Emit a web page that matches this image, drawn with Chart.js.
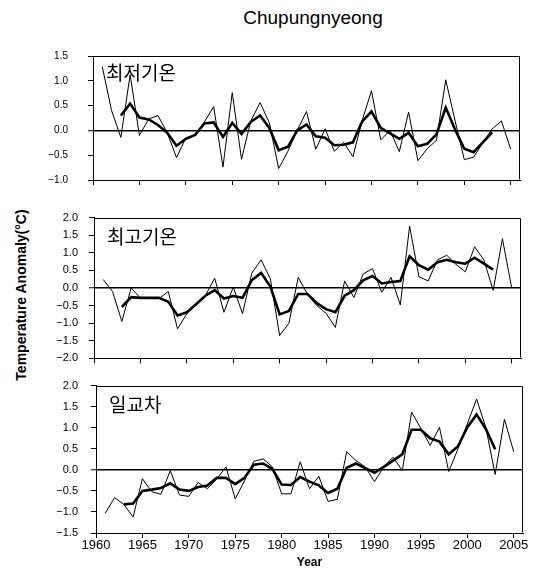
<!DOCTYPE html>
<html>
<head>
<meta charset="utf-8">
<script src="https://cdn.jsdelivr.net/npm/chart.js@4.4.0/dist/chart.umd.min.js"></script>
<style>
  body { margin: 0; background: #fff; }
  #page { position: relative; width: 539px; height: 571px; overflow: hidden; font-family: 'Liberation Sans', Arial, sans-serif; }
  canvas { position: absolute; left: 0; }
  #title { position: absolute; left: 163px; width: 300px; top: 8px; line-height: 19px; font-size: 19px; text-align: center; color: #000; }
  #ylab { position: absolute; left: -129px; width: 300px; top: 287px; line-height: 16px; font-size: 14px; font-weight: bold; text-align: center; transform: rotate(-90deg); color: #000; }
</style>
</head>
<body>
<div id="page">
  <div id="title">Chupungnyeong</div>
  <div id="ylab">Temperature Anomaly(°C)</div>
  <canvas id="c1" width="539" height="176" style="top:30px"></canvas>
  <canvas id="c2" width="539" height="176" style="top:200px"></canvas>
  <canvas id="c3" width="539" height="205" style="top:366px"></canvas>
</div>
<script>
const FONT = "'Liberation Sans', Arial, sans-serif";

// years of annual values, and the years covered by the smoothed curve
const years = [1961,1962,1963,1964,1965,1966,1967,1968,1969,1970,
  1971,1972,1973,1974,1975,1976,1977,1978,1979,1980,
  1981,1982,1983,1984,1985,1986,1987,1988,1989,1990,
  1991,1992,1993,1994,1995,1996,1997,1998,1999,2000,
  2001,2002,2003,2004,2005];
const smoothYears = years.slice(2, 43); // 1963 - 2003
const xTickYears = [1960,1965,1970,1975,1980,1985,1990,1995,2000,2005];

// 최저기온 (minimum temperature)
const tminAnnual = [1.28,0.40,-0.14,1.12,-0.10,0.23,0.30,-0.05,-0.55,-0.15,
  -0.10,0.17,0.48,-0.74,0.76,-0.58,0.19,0.56,0.15,-0.77,
  -0.42,0.00,0.38,-0.38,0.03,-0.42,-0.24,-0.53,0.20,0.80,
  -0.19,0.00,-0.43,0.37,-0.61,-0.37,-0.20,1.02,0.20,-0.59,
  -0.54,-0.25,0.03,0.19,-0.38];
const tminSmooth = [0.30,0.54,0.26,0.22,0.11,-0.05,-0.31,-0.17,-0.09,0.14,
  0.16,-0.13,0.15,-0.07,0.17,0.30,0.05,-0.40,-0.33,0.00,
  0.12,-0.12,-0.15,-0.30,-0.29,-0.24,0.18,0.38,0.05,-0.06,
  -0.17,-0.05,-0.32,-0.27,-0.08,0.46,0.02,-0.37,-0.44,-0.24,
  -0.04];
const tminTicks = [-1.0,-0.5,0.0,0.5,1.0,1.5];

// 최고기온 (maximum temperature)
const tmaxAnnual = [0.24,-0.10,-0.95,0.00,-0.28,-0.30,-0.30,-0.10,-1.16,-0.73,
  -0.47,-0.22,0.28,-0.69,0.03,-0.73,0.42,0.80,0.26,-1.35,
  -1.00,0.30,-0.18,-0.50,-0.72,-1.12,0.20,-0.27,0.40,0.55,
  -0.12,0.30,-0.48,1.76,0.32,0.20,0.80,0.93,0.67,0.46,
  1.17,0.80,-0.07,1.40,0.00];
const tmaxSmooth = [-0.54,-0.26,-0.28,-0.28,-0.28,-0.39,-0.78,-0.69,-0.46,-0.22,
  -0.06,-0.30,-0.23,-0.28,0.22,0.43,0.04,-0.75,-0.65,-0.17,
  -0.17,-0.43,-0.60,-0.69,-0.22,-0.06,0.22,0.34,0.13,0.17,
  0.20,0.90,0.65,0.52,0.73,0.80,0.73,0.69,0.86,0.69,
  0.52];
const tmaxTicks = [-2.0,-1.5,-1.0,-0.5,0.0,0.5,1.0,1.5,2.0];

// 일교차 (diurnal temperature range)
const dtrAnnual = [-1.03,-0.66,-0.82,-1.12,-0.21,-0.52,-0.58,-0.02,-0.60,-0.63,
  -0.30,-0.45,-0.22,0.07,-0.69,-0.26,0.20,0.26,0.07,-0.57,
  -0.57,0.19,-0.45,-0.15,-0.75,-0.70,0.43,0.22,0.07,-0.28,
  0.07,0.30,-0.02,1.37,0.98,0.58,1.01,-0.04,0.50,1.09,
  1.68,1.00,-0.11,1.20,0.43];
const dtrSmooth = [-0.82,-0.80,-0.50,-0.47,-0.43,-0.32,-0.47,-0.50,-0.41,-0.37,
  -0.19,-0.19,-0.34,-0.19,0.12,0.15,0.02,-0.35,-0.36,-0.17,
  -0.28,-0.37,-0.55,-0.45,0.05,0.15,0.04,-0.07,0.07,0.22,
  0.37,0.95,0.95,0.75,0.67,0.37,0.56,1.01,1.31,0.97,
  0.49];
const dtrTicks = [-1.5,-1.0,-0.5,0.0,0.5,1.0,1.5,2.0];

// draws the box around the plot and the panel name
const framePlugin = {
  id: 'frame',
  afterDraw(chart, args, opts) {
    const a = chart.chartArea;
    const ctx = chart.ctx;
    ctx.save();
    ctx.strokeStyle = '#000';
    ctx.lineWidth = 1;
    ctx.beginPath();
    ctx.moveTo(Math.round(a.left) + 0.5, Math.round(a.top) + 0.5);
    ctx.lineTo(Math.round(a.right) - 0.5, Math.round(a.top) + 0.5);
    ctx.lineTo(Math.round(a.right) - 0.5, Math.round(a.bottom) - 0.5);
    ctx.stroke();
    ctx.fillStyle = '#000';
    ctx.font = "19px 'Noto Sans CJK KR', sans-serif";
    ctx.textBaseline = 'middle';
    ctx.textAlign = 'left';
    ctx.fillText(opts.label, a.left + 13, a.top + opts.dy);
    ctx.restore();
  }
};

function fmt(v) {
  return (v < 0 ? '\u2212' : '') + Math.abs(v).toFixed(1);
}

function makePanel(id, p) {
  return new Chart(document.getElementById(id), {
    type: 'line',
    data: {
      datasets: [
        {
          data: years.map((x, i) => ({ x: x, y: p.annual[i] })),
          borderColor: '#000', borderWidth: 1, pointRadius: 0, fill: false
        },
        {
          data: smoothYears.map((x, i) => ({ x: x, y: p.smooth[i] })),
          borderColor: '#000', borderWidth: 2.6, pointRadius: 0, fill: false
        }
      ]
    },
    options: {
      responsive: false,
      animation: false,
      devicePixelRatio: 1,
      layout: { autoPadding: false, padding: p.pad },
      plugins: {
        legend: { display: false },
        tooltip: { enabled: false },
        frame: { label: p.label, dy: p.labelDy }
      },
      scales: {
        x: {
          type: 'linear', min: 1960, max: 2006,
          afterBuildTicks: s => { s.ticks = xTickYears.map(v => ({ value: v })); },
          afterFit: s => { s.height = p.xHeight; },
          ticks: {
            display: p.xLabels, color: '#000', padding: 0, maxRotation: 0, autoSkip: false,
            font: { family: FONT, size: 13 },
            callback: v => String(v)
          },
          grid: { drawOnChartArea: false, color: '#000', tickLength: 5, tickWidth: 1 },
          border: { display: true, color: '#000', width: 1 },
          title: {
            display: p.xLabels, text: 'Year', color: '#000',
            font: { family: FONT, size: 12, weight: 'bold' },
            padding: { top: 0, bottom: 1 }
          }
        },
        y: {
          min: p.yMin, max: p.yMax,
          afterBuildTicks: s => { s.ticks = p.yTicks.map(v => ({ value: v })); },
          afterFit: s => { s.width = p.yWidth; },
          ticks: {
            color: '#000', padding: p.yPad,
            font: { family: FONT, size: p.yFont },
            callback: v => fmt(v)
          },
          grid: {
            color: c => (c.tick && c.tick.value === 0) ? '#000' : 'rgba(0,0,0,0)',
            lineWidth: c => (c.tick && c.tick.value === 0) ? 1.5 : 1,
            tickColor: '#000', tickLength: 5, tickWidth: 1
          },
          border: { display: true, color: '#000', width: 1 }
        }
      }
    },
    plugins: [framePlugin]
  });
}

makePanel('c1', {
  annual: tminAnnual, smooth: tminSmooth, yTicks: tminTicks, yMin: -1.0, yMax: 1.5,
  label: '최저기온', labelDy: 17,
  pad: { top: 10, right: 19, left: 0, bottom: 0 }, yWidth: 93, xHeight: 10,
  yFont: 10, yPad: 20, xLabels: false
});
makePanel('c2', {
  annual: tmaxAnnual, smooth: tmaxSmooth, yTicks: tmaxTicks, yMin: -2.0, yMax: 2.0,
  label: '최고기온', labelDy: 19,
  pad: { top: 11, right: 18, left: 0, bottom: 0 }, yWidth: 94, xHeight: 11,
  yFont: 11, yPad: 11, xLabels: false
});
makePanel('c3', {
  annual: dtrAnnual, smooth: dtrSmooth, yTicks: dtrTicks, yMin: -1.5, yMax: 2.0,
  label: '일교차', labelDy: 19,
  pad: { top: 10, right: 16, left: 0, bottom: 0 }, yWidth: 96, xHeight: 38,
  yFont: 11, yPad: 13, xLabels: true
});
</script>
</body>
</html>
